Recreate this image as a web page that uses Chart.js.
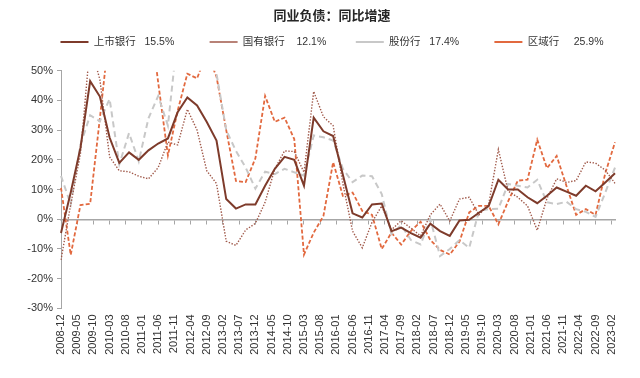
<!DOCTYPE html>
<html><head><meta charset="utf-8">
<script src="https://cdn.jsdelivr.net/npm/chart.js@4.4.1/dist/chart.umd.min.js"></script>
<style>html,body{margin:0;padding:0;background:#fff;}canvas{display:block;}</style>
</head><body>
<canvas id="c" width="640" height="378"></canvas>
<script>
// ---------- data ----------
const quarters = ['2008-12','2009-03','2009-06','2009-09','2009-12','2010-03','2010-06','2010-09','2010-12','2011-03',
'2011-06','2011-09','2011-12','2012-03','2012-06','2012-09','2012-12','2013-03','2013-06','2013-09',
'2013-12','2014-03','2014-06','2014-09','2014-12','2015-03','2015-06','2015-09','2015-12','2016-03',
'2016-06','2016-09','2016-12','2017-03','2017-06','2017-09','2017-12','2018-03','2018-06','2018-09',
'2018-12','2019-03','2019-06','2019-09','2019-12','2020-03','2020-06','2020-09','2020-12','2021-03',
'2021-06','2021-09','2021-12','2022-03','2022-06','2022-09','2022-12','2023-03'];

const tickLabels = ['2008-12','2009-05','2009-10','2010-03','2010-08','2011-01','2011-06','2011-11','2012-04','2012-09',
'2013-02','2013-07','2013-12','2014-05','2014-10','2015-03','2015-08','2016-01','2016-06','2016-11',
'2017-04','2017-09','2018-02','2018-07','2018-12','2019-05','2019-10','2020-03','2020-08','2021-01',
'2021-06','2021-11','2022-04','2022-09','2023-02'];

const seriesNames = ['上市银行','国有银行','股份行','区域行'];

const listedBanks = [-4.6,9,24,46.5,41.3,27.5,19,22.5,20,23.2,
25.5,27.2,36,41,38.3,32.7,26.5,6.8,3.6,5,
5,11.3,17,21,20,11.3,34.2,29.6,28,15,
2,0.6,5,5.3,-4,-2.8,-4.7,-6.2,-1.5,-4,
-5.6,-0.4,-0.2,2.2,4.4,13.3,10,10,7.4,5.4,
7.9,10.7,9.3,7.9,11.3,9.4,12.4,15.5];

const stateBanks = [-13.7,5,22,59,47,21,16.3,16,14.5,13.6,
17.4,26,25,37,30,16.3,12,-7.4,-8.8,-3.6,
-1.4,5.7,17,23,22.8,15.8,43,34.5,31.5,12,
-4,-9.6,-1,4.5,-3.5,-0.5,-3,-5.6,1.5,5.1,
-0.6,6.8,7.4,1.5,5,23.5,9.5,7.4,4.5,-3.7,
7,13.6,12.4,13,19.3,18.9,16.5,12.1];

const jointStockBanks = [14.6,5,25,35,33,40.5,18.5,29,19.5,34,
41.5,31.5,62,51,58,60,49,30,23,17.4,
10.3,16,15.2,17,15.8,14.7,28.2,27.6,26.5,17,
12.5,14.7,14.5,8.5,-5,-2,-7,-8.5,0,-12.4,
-10,-7,-9.6,2.8,3.4,3.5,11.9,11.3,10.7,13.3,
5.7,5.1,5.9,3.4,2.5,0.8,9,17.4];

const regionalBanks = [10.6,-12,4.8,5.2,34,64,70,72,68,72,
46,21.5,36.5,49,47.4,56,48,30,12.9,12.5,
20.5,41.5,32.8,34.2,27,-11.9,-4.5,1.1,19.2,7.9,
9,2.8,1.5,-10,-4.5,-8.5,-4,-0.8,-7,-10.3,
-11.9,-7.5,2.3,4.5,4.5,-1.7,6,13,13.3,26.8,
17.2,21.3,11.3,1.5,3.4,1.5,15.5,25.9];

const seriesData = [listedBanks, stateBanks, jointStockBanks, regionalBanks];

// monthly category axis spanning the quarterly observations
function buildMonths(first, last) {
  let [y, m] = first.split('-').map(Number);
  const [ly, lm] = last.split('-').map(Number);
  const out = [];
  while (y < ly || (y === ly && m <= lm)) {
    out.push(y + '-' + String(m).padStart(2, '0'));
    m++; if (m > 12) { m = 1; y++; }
  }
  return out;
}
const months = buildMonths(quarters[0], quarters[quarters.length - 1]);

// ---------- styles ----------
const FONT = '"Liberation Sans", Arial, "Noto Sans CJK SC", sans-serif';
const AXIS_GRAY = '#A6A6A6';
const styles = [
  {color: '#7E3B2B', width: 2,   dash: []},
  {color: '#A0594A', width: 1.4, dash: [1.4, 1.6]},
  {color: '#C8C8C8', width: 2,   dash: [6, 4]},
  {color: '#E2693F', width: 1.8, dash: [4, 2.2]}
];
const legendGaps = ['   ', '    ', '   ', '     '];
const legendTrail = ['        ', '      ', '        ', ''];

Chart.defaults.font.family = FONT;

const datasets = seriesData.map((vals, i) => ({
  label: seriesNames[i],
  data: quarters.map((q, k) => ({x: q, y: vals[k]})),
  borderColor: styles[i].color,
  backgroundColor: styles[i].color,
  borderWidth: styles[i].width,
  borderDash: styles[i].dash,
  pointRadius: 0,
  pointHoverRadius: 0,
  tension: 0,
  fill: false
}));

new Chart(document.getElementById('c'), {
  type: 'line',
  data: {labels: months, datasets},
  options: {
    responsive: false,
    animation: false,
    events: [],
    layout: {padding: {left: 24, right: 0, top: 0, bottom: 0}},
    plugins: {
      title: {
        display: true,
        text: '同业负债：同比增速',
        color: '#262626',
        font: {size: 13, weight: 'bold', family: FONT},
        padding: {top: 8.2, bottom: 0.95}
      },
      legend: {
        display: true,
        position: 'top',
        weight: 1800,
        labels: {
          usePointStyle: true,
          pointStyle: 'line',
          pointStyleWidth: 28,
          padding: 12,
          color: '#333333',
          font: {size: 10.5, family: FONT},
          generateLabels(chart) {
            const items = Chart.defaults.plugins.legend.labels.generateLabels(chart);
            items.forEach((it, i) => {
              const d = seriesData[i];
              it.text = seriesNames[i] + legendGaps[i] + d[d.length - 1].toFixed(1) + '%' + legendTrail[i];
            });
            return items;
          }
        }
      },
      subtitle: {
        display: true,
        text: '',
        font: {size: 10, lineHeight: 1.2},
        padding: {top: 1.45, bottom: 0}
      },
      tooltip: {enabled: false}
    },
    scales: {
      x: {
        type: 'category',
        position: 'bottom',
        grid: {display: false, drawTicks: false},
        border: {display: false},
        ticks: {
          autoSkip: false,
          minRotation: 90,
          maxRotation: 90,
          padding: 6,
          color: '#333333',
          font: {size: 11},
          callback(value) {
            const lab = this.getLabelForValue(value);
            return tickLabels.includes(lab) ? lab : '';
          }
        },
        afterFit(s) { s.height = 69.6; s.paddingRight = 25; }
      },
      x2: {
        type: 'category',
        position: {y: 0},
        grid: {
          display: true,
          drawOnChartArea: false,
          drawTicks: true,
          tickLength: 4,
          lineWidth: 1,
          tickColor: (ctx) => tickLabels.includes(months[ctx.index]) ? AXIS_GRAY : 'rgba(0,0,0,0)'
        },
        border: {display: true, color: AXIS_GRAY, width: 1.5},
        ticks: {display: false, autoSkip: false}
      },
      y: {
        min: -30,
        max: 50,
        position: 'left',
        grid: {display: true, drawOnChartArea: false, drawTicks: true, tickLength: 4, color: AXIS_GRAY},
        border: {display: true, color: AXIS_GRAY, width: 1},
        ticks: {
          stepSize: 10,
          padding: 4,
          color: '#333333',
          font: {size: 11},
          callback: (v) => v + '%'
        },
        afterFit(s) { s.width = 37; }
      }
    }
  }
});
</script>
</body></html>
